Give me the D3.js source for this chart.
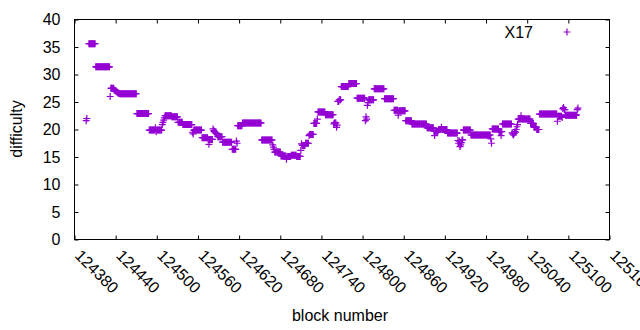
<!DOCTYPE html>
<html>
<head>
<meta charset="utf-8">
<script src="https://cdn.jsdelivr.net/npm/d3@7"></script>
<style>
  body { margin: 0; background: #fff; }
  text { font-family: "Liberation Sans", Arial, sans-serif; }
</style>
</head>
<body>
<div id="chart"></div>
<script>
// runs of consecutive blocks sharing one difficulty value
const blockStart = [124397,124398,124401,124411,124432,124433,124438,124439,124440,124441,124442,124443,124444,124446,124471,124489,124498,124499,124500,124508,124509,124510,124511,124512,124522,124531,124538,124552,124553,124554,124566,124575,124576,124577,124582,124583,124584,124585,124586,124587,124588,124589,124596,124610,124616,124617,124618,124625,124653,124669,124670,124671,124672,124681,124689,124690,124696,124704,124710,124711,124712,124717,124722,124723,124729,124734,124735,124746,124758,124759,124762,124763,124764,124766,124769,124780,124792,124804,124805,124806,124807,124808,124809,124817,124832,124846,124852,124853,124863,124872,124894,124904,124905,124906,124911,124915,124916,124924,124939,124940,124941,124942,124943,124944,124945,124947,124958,124987,124988,124989,124999,125002,125003,125004,125018,125019,125020,125021,125022,125023,125024,125025,125026,125027,125031,125032,125045,125050,125054,125058,125084,125085,125091,125092,125093,125094,125096,125113,125114];
const blockEnd   = [124397,124398,124410,124431,124432,124437,124438,124439,124440,124441,124442,124443,124445,124470,124488,124497,124498,124499,124507,124508,124509,124510,124511,124521,124530,124537,124551,124552,124553,124565,124574,124575,124576,124581,124582,124583,124584,124585,124586,124587,124588,124595,124609,124615,124616,124617,124624,124652,124668,124669,124670,124671,124680,124688,124689,124695,124703,124709,124710,124711,124716,124721,124722,124728,124733,124734,124745,124757,124758,124761,124762,124763,124765,124768,124779,124791,124803,124804,124805,124806,124807,124808,124816,124831,124845,124851,124852,124862,124871,124893,124903,124904,124905,124910,124914,124915,124923,124938,124939,124940,124941,124942,124943,124944,124946,124957,124986,124987,124988,124998,125001,125002,125003,125017,125018,125019,125020,125021,125022,125023,125024,125025,125026,125030,125031,125044,125049,125053,125057,125083,125084,125090,125091,125092,125093,125095,125112,125113,125114];
const difficulty = [21.6,22.0,35.6,31.4,26.0,27.5,27.2,27.1,27.0,26.9,26.8,26.7,26.6,26.5,22.9,19.9,20.3,19.6,19.9,20.9,21.3,21.7,22.1,22.5,22.3,21.3,20.9,19.5,19.2,19.9,18.5,18.2,17.3,18.2,20.1,19.8,19.6,19.5,19.4,19.3,19.1,18.7,17.7,16.4,17.9,17.5,20.7,21.2,18.1,17.2,16.8,16.4,15.9,15.2,14.6,15.1,15.3,15.1,16.2,17.4,17.1,17.5,18.9,19.1,21.1,21.9,23.2,22.7,21.0,21.2,20.4,20.8,25.1,25.4,27.8,28.35,25.7,21.6,22.3,21.9,24.4,24.9,25.4,27.4,25.6,23.5,22.6,23.4,21.6,21.0,20.3,19.7,18.9,19.7,20.0,20.4,20.0,19.35,18.0,17.5,17.9,16.9,17.2,17.6,18.1,19.9,19.0,18.3,17.5,20.1,19.6,18.9,19.6,21.0,19.4,19.2,19.0,19.3,19.6,19.5,20.0,20.5,20.9,21.9,22.5,21.9,21.1,20.4,20.0,22.8,21.5,22.4,22.2,23.8,24.0,23.6,22.6,23.6,23.9];

const xTicks = [124380,124440,124500,124560,124620,124680,124740,124800,124860,124920,124980,125040,125100,125160];
const yTicks = [0,5,10,15,20,25,30,35,40];

// one point per block
const points = [];
blockStart.forEach((s, i) => {
  for (let b = s; b <= blockEnd[i]; b++) points.push({ block: b, value: difficulty[i] });
});

const w = 640, h = 330;
const padL = 74.5, padR = 609.5, padT = 19.5, padB = 239.5;
const color = "#9400d3";

const svg = d3.select("#chart").append("svg")
  .attr("width", w).attr("height", h);

const x = d3.scaleLinear().domain([124380, 125160]).range([padL, padR]);
const y = d3.scaleLinear().domain([0, 40]).range([padB, padT]);

// bottom axis with rotated labels
const gx = svg.append("g").attr("transform", `translate(0,${padB})`)
  .call(d3.axisBottom(x).tickValues(xTicks).tickFormat(d3.format("d")).tickSizeInner(-4).tickSizeOuter(0));
gx.select(".domain").remove();
gx.selectAll("text")
  .attr("x", 0).attr("y", 0).attr("dy", "0.35em")
  .attr("transform", "translate(3,13) rotate(45)")
  .style("text-anchor", "start").style("font-size", "16px").attr("fill", "#000");

// top mirror ticks
const gt = svg.append("g").attr("transform", `translate(0,${padT})`)
  .call(d3.axisTop(x).tickValues(xTicks.slice(0, -1)).tickFormat("").tickSizeInner(-4).tickSizeOuter(0));
gt.select(".domain").remove();

// left axis
const gy = svg.append("g").attr("transform", `translate(${padL},0)`)
  .call(d3.axisLeft(y).tickValues(yTicks).tickSizeInner(-4).tickSizeOuter(0).tickPadding(14));
gy.select(".domain").remove();
gy.selectAll("text").style("font-size", "16px").attr("fill", "#000");

// right mirror ticks
const gr = svg.append("g").attr("transform", `translate(${padR},0)`)
  .call(d3.axisRight(y).tickValues(yTicks).tickFormat("").tickSizeInner(-4).tickSizeOuter(0));
gr.select(".domain").remove();

svg.selectAll(".tick line").attr("stroke", "#000");

// frame
svg.append("rect")
  .attr("x", padL).attr("y", padT)
  .attr("width", padR - padL).attr("height", padB - padT)
  .attr("fill", "none").attr("stroke", "#000").attr("stroke-width", 1);

// points as "+"
const cross = "M-3.5,0H3.5M0,-3.5V3.5";
svg.append("g").selectAll("path")
  .data(points)
  .join("path")
  .attr("transform", d => `translate(${x(d.block)},${y(d.value)})`)
  .attr("d", cross)
  .attr("stroke", color).attr("stroke-width", 1.2).attr("fill", "none");

// legend
svg.append("text").attr("x", 533).attr("y", 32).attr("dy", "0.35em")
  .attr("text-anchor", "end").style("font-size", "16px").text("X17");
svg.append("path").attr("transform", "translate(567,32)").attr("d", cross)
  .attr("stroke", color).attr("stroke-width", 1.2);

// axis titles
svg.append("text").attr("transform", "translate(22,129) rotate(-90)")
  .attr("text-anchor", "middle").style("font-size", "16px").text("difficulty");
svg.append("text").attr("x", 340).attr("y", 321)
  .attr("text-anchor", "middle").style("font-size", "16px").text("block number");
</script>
</body>
</html>
